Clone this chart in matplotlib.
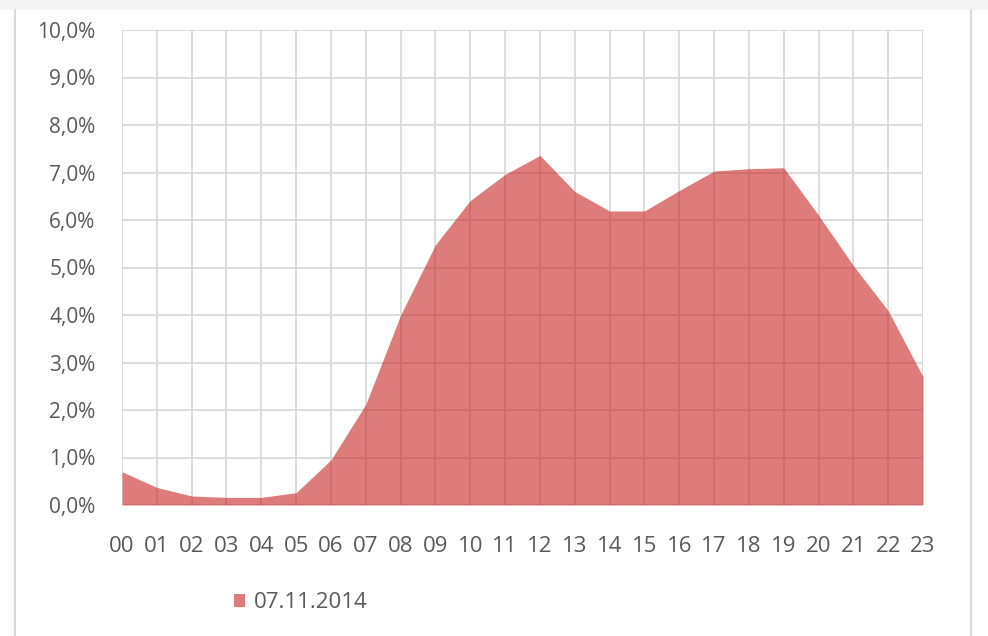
import numpy as np
import matplotlib.pyplot as plt
from matplotlib.ticker import FuncFormatter, MultipleLocator
from matplotlib.patches import Rectangle, Patch
from matplotlib.lines import Line2D

plt.rcParams['font.family'] = ['Open Sans', 'DejaVu Sans']

hours = ["%02d" % h for h in range(24)]
share = [0.70, 0.37, 0.19, 0.16, 0.16, 0.26, 0.95, 2.12, 4.00, 5.48, 6.41, 6.96,
         7.36, 6.60, 6.19, 6.19, 6.62, 7.03, 7.08, 7.10, 6.10, 5.04, 4.09, 2.70]
series_name = "07.11.2014"

fig = plt.figure(figsize=(9.88, 6.36), dpi=100)
ax = fig.add_axes([122 / 988, 131 / 636, 801 / 988, 475 / 636])

x = np.arange(len(hours))
ax.fill_between(x, share, 0, color="#c82525", alpha=0.6, linewidth=0, zorder=2)

ax.set_xlim(0, len(hours) - 1)
ax.set_ylim(0, 10)
ax.set_xticks(x)
ax.set_xticklabels(hours)
ax.yaxis.set_major_locator(MultipleLocator(1))
ax.yaxis.set_major_formatter(FuncFormatter(lambda v, p: ("%.1f%%" % v).replace(".", ",")))
ax.grid(True, color="#d9d9d9", linewidth=1.3, zorder=1)
ax.set_axisbelow(True)
for s in ax.spines.values():
    s.set_visible(False)
ax.tick_params(axis="both", length=0, colors="#595959")
ax.tick_params(axis="x", pad=22, labelsize=16)
ax.tick_params(axis="y", pad=19, labelsize=15)

# legend
fig.legend(handles=[Patch(facecolor="#c82525", alpha=0.6, label=series_name)],
           loc="center left", bbox_to_anchor=(214 / 988, 1 - 603 / 636),
           frameon=False, fontsize=16, labelcolor="#595959",
           handlelength=0.5, handleheight=0.5, handletextpad=0.4)

# screenshot frame
fig.add_artist(Rectangle((0, 1 - 10 / 636), 1, 10 / 636, transform=fig.transFigure,
                         facecolor="#f4f4f4", edgecolor="none"))
fig.add_artist(Line2D([15 / 988, 15 / 988], [0, 1 - 10 / 636], transform=fig.transFigure,
                      color="#d9d9d9", linewidth=1.5))
fig.add_artist(Line2D([971 / 988, 971 / 988], [0, 1 - 10 / 636], transform=fig.transFigure,
                      color="#d9d9d9", linewidth=1.5))

fig.savefig("out.png", dpi=100)
